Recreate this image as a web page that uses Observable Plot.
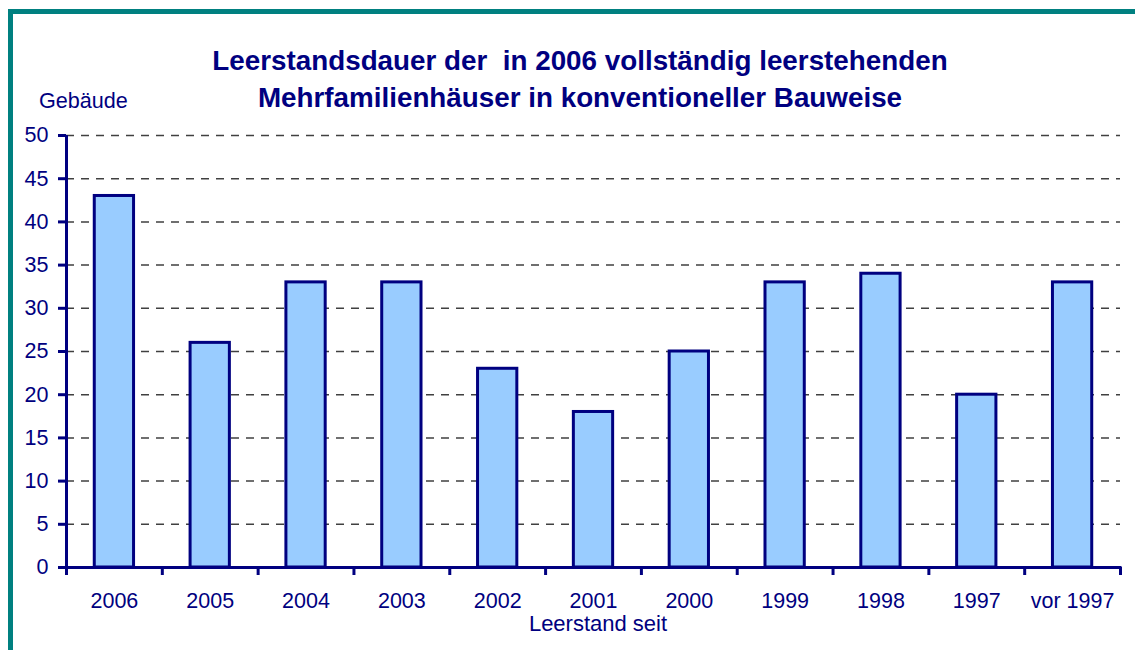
<!DOCTYPE html>
<html>
<head>
<meta charset="utf-8">
<script src="https://cdn.jsdelivr.net/npm/d3@7"></script>
<script src="https://cdn.jsdelivr.net/npm/@observablehq/plot@0.6"></script>
<style>
  html, body { margin: 0; padding: 0; background: #fff; overflow: hidden; }
  #wrap { position: relative; width: 1135px; height: 650px; font-family: "Liberation Sans", Arial, sans-serif; color: #000080; }
  #frame { position: absolute; left: 8px; top: 9px; width: 1200px; height: 700px; border-left: 5px solid #008080; border-top: 5px solid #008080; box-sizing: border-box; }
  #title { position: absolute; left: 0; top: 42px; width: 1160px; text-align: center; font-weight: bold; font-size: 27.8px; line-height: 37px; white-space: pre; }
  #ylab { position: absolute; left: 39px; top: 90px; font-size: 21.6px; line-height: 21px; white-space: pre; }
  #xlab { position: absolute; left: 398px; width: 400px; top: 613.5px; text-align: center; font-size: 22px; line-height: 20px; white-space: pre; }
  #chart { position: absolute; left: 0; top: 0; }
</style>
</head>
<body>
<div id="wrap">
  <div id="chart"></div>
  <div id="frame"></div>
  <div id="title"></div>
  <div id="ylab"></div>
  <div id="xlab"></div>
</div>
<script>
const titleLines = ["Leerstandsdauer der  in 2006 vollständig leerstehenden", "Mehrfamilienhäuser in konventioneller Bauweise"];
const yAxisLabel = "Gebäude";
const xAxisLabel = "Leerstand seit";
const categories = ["2006", "2005", "2004", "2003", "2002", "2001", "2000", "1999", "1998", "1997", "vor 1997"];
const values = [43, 26, 33, 33, 23, 18, 25, 33, 34, 20, 33];
const yTicks = [0, 5, 10, 15, 20, 25, 30, 35, 40, 45, 50];
const gridTicks = [5, 10, 15, 20, 25, 30, 35, 40, 45, 50];

document.getElementById("title").textContent = titleLines.join("\n");
document.getElementById("ylab").textContent = yAxisLabel;
document.getElementById("xlab").textContent = xAxisLabel;

const data = categories.map((c, i) => ({cat: c, value: values[i]}));

const W = 1135, H = 650, ML = 66, MR = 15, MT = 135, MB = 83;
const step = (W - ML - MR) / categories.length;
const navy = "#000080";

const chart = Plot.plot({
  width: W,
  height: H,
  marginLeft: ML,
  marginRight: MR,
  marginTop: MT,
  marginBottom: MB,
  style: {fontFamily: "Liberation Sans, Arial, sans-serif", color: navy, background: "transparent"},
  x: {domain: categories, paddingInner: 0.59, paddingOuter: 0.295, round: false, label: null},
  y: {domain: [0, 50], label: null},
  marks: [
    Plot.ruleY(gridTicks, {stroke: "#404040", strokeWidth: 1.5, strokeDasharray: "8,7"}),
    Plot.barY(data, {x: "cat", y: "value", fill: "#99CCFF", stroke: navy, strokeWidth: 3}),
    Plot.axisY(yTicks, {tickSize: 8, tickPadding: 10, fontSize: 21.5, strokeWidth: 3, stroke: navy, fill: navy, label: null}),
    Plot.axisX({tickSize: 0, tickPadding: 25, fontSize: 21.5, fill: navy, label: null}),
    Plot.ruleX([categories[0]], {x: d => d, y1: 0, y2: 50, dx: -step / 2, stroke: navy, strokeWidth: 3}),
    Plot.ruleX(categories, {x: d => d, y1: 0, y2: 0, insetBottom: -8, dx: -step / 2, stroke: navy, strokeWidth: 3}),
    Plot.ruleX([categories[categories.length - 1]], {x: d => d, y1: 0, y2: 0, insetBottom: -8, dx: step / 2, stroke: navy, strokeWidth: 3}),
    Plot.ruleY([0], {stroke: navy, strokeWidth: 3, insetLeft: -1.5, insetRight: -1.5})
  ]
});
document.getElementById("chart").appendChild(chart);
</script>
</body>
</html>
